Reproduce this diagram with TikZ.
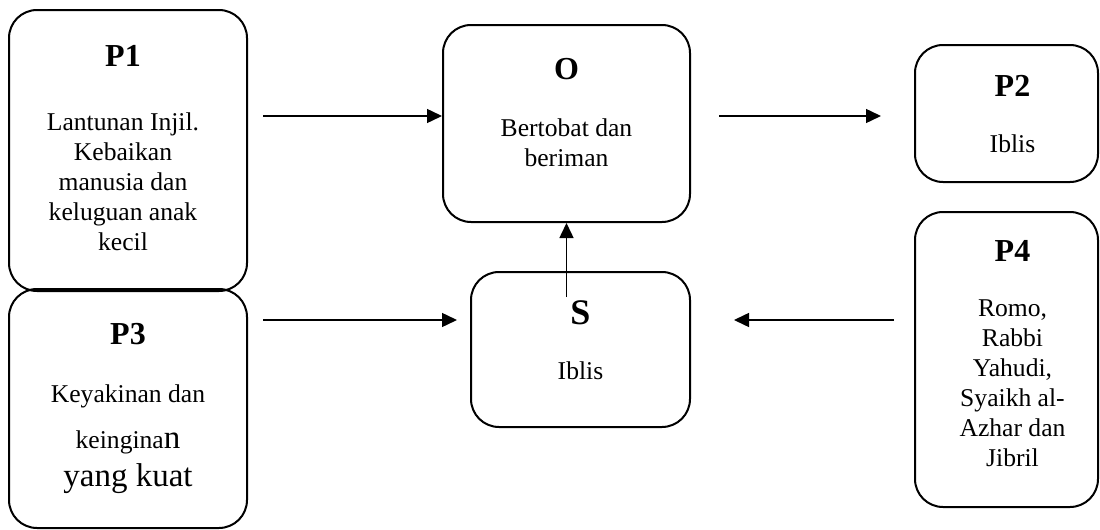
\documentclass[tikz,border=0pt]{standalone}
\usepackage{fontspec}
\setmainfont{Liberation Serif}
\usetikzlibrary{positioning,arrows.meta}

\newcommand{\hd}[2][16]{{\fontsize{#1}{15}\selectfont\bfseries #2}}
\newcommand{\bigtxt}[1]{{\fontsize{16.5}{15}\selectfont #1}}

\begin{document}
\begin{tikzpicture}[x=0.5pt, y=-0.5pt,
  box/.style={draw, line width=1pt, rounded corners=14pt, inner sep=0pt},
  txt/.style={inner sep=0pt, align=center, font={\fontsize{12.8}{15}\selectfont}},
  arr/.style={-{Triangle[length=7.5pt,width=7pt]}, line width=0.75pt}]
\useasboundingbox (0,0) rectangle (1100,530);
% boxes
\node[box, minimum width=119pt, minimum height=140.5pt] (P1) at (128,150.5) {};
\node[box, minimum width=119pt, minimum height=119.5pt] (P3) at (128,408.5) {};
\node[box, minimum width=123.5pt, minimum height=98.5pt] (O) at (566.5,123.5) {};
\node[box, minimum width=109.5pt, minimum height=77.5pt] (S) at (580.5,349.5) {};
\node[box, minimum width=91.5pt, minimum height=68.5pt] (P2) at (1006.5,113.5) {};
\node[box, minimum width=91.5pt, minimum height=147.5pt] (P4) at (1006.5,359.5) {};
% texts
\node[txt, below=18pt of P1.north, xshift=-2.5pt] (P1t) {\hd{P1}\\[17pt] Lantunan Injil.\\ Kebaikan\\ manusia dan\\ keluguan anak\\ kecil};
\node[txt, below=17.5pt of P3.north] (P3t) {\hd{P3}\\[14pt] Keyakinan dan\\[8pt] keingina\bigtxt{n}\\[4pt] \bigtxt{yang kuat}};
\node[txt, below=17pt of O.north] (Ot) {\hd{O}\\[13.5pt] Bertobat dan\\ beriman};
\node[txt, below=14.5pt of S.north] (St) {\hd[18]{S}\\[12.5pt] Iblis};
\node[txt, below=15.5pt of P2.north, xshift=3pt] (P2t) {\hd{P2}\\[13pt] Iblis};
\node[txt, below=14.5pt of P4.north, xshift=3pt] (P4t) {\hd{P4}\\[12.5pt] Romo,\\ Rabbi\\ Yahudi,\\ Syaikh al-\\ Azhar dan\\ Jibril};
% arrows
\coordinate (top) at (0,116);
\coordinate (mid) at (0,320);
\draw[arr, shorten <=7.5pt] (P1.east |- top) -- (O.west |- top);
\draw[arr, shorten <=14pt, shorten >=16.5pt] (O.east |- top) -- (P2.west |- top);
\draw[arr, shorten <=7.5pt, shorten >=6.5pt] (P3.east |- mid) -- (S.west |- mid);
\draw[arr, shorten <=10pt, shorten >=21.5pt] (P4.west |- mid) -- (S.east |- mid);
\draw[arr, shorten <=-13pt] (S.north -| O.south) -- (O.south);
\end{tikzpicture}
\end{document}
